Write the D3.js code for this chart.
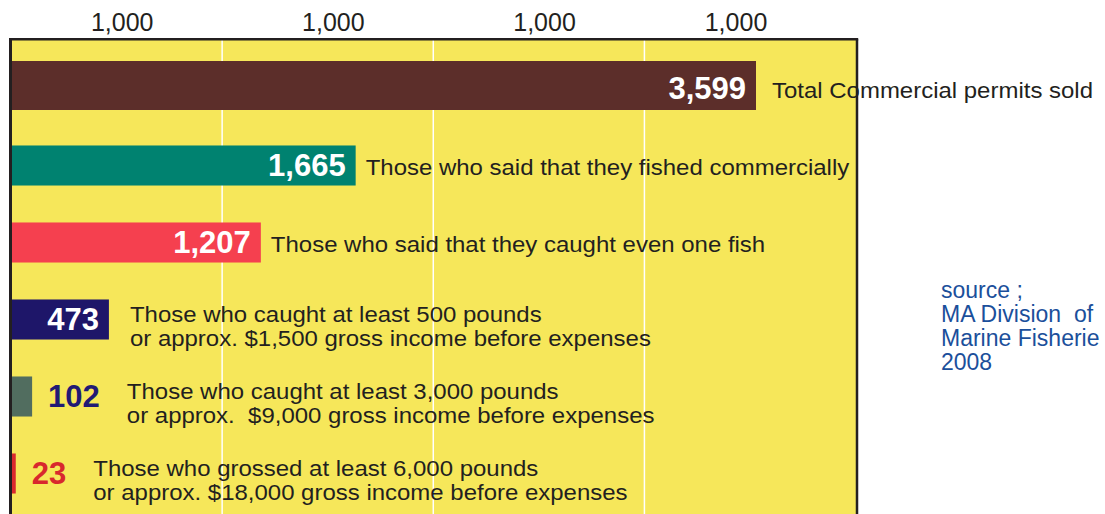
<!DOCTYPE html>
<html><head><meta charset="utf-8">
<script src="https://cdn.jsdelivr.net/npm/d3@7"></script>
<style>
body{margin:0;background:#fff;overflow:hidden;}
svg{display:block;font-family:"Liberation Sans",Arial,Helvetica,sans-serif;}
text{white-space:pre;}
</style>
</head><body><svg id="chart" width="1105" height="514"></svg>
<script>
const categories = ["total","fished","caught","500lb","3000lb","6000lb"];
const values = [3599, 1665, 1207, 473, 102, 23];
const valueLabels = ["3,599", "1,665", "1,207", "473", "102", "23"];
const descriptions = [
  ["Total Commercial permits sold"],
  ["Those who said that they fished commercially"],
  ["Those who said that they caught even one fish"],
  ["Those who caught at least 500 pounds", "or approx. $1,500 gross income before expenses"],
  ["Those who caught at least 3,000 pounds", "or approx.  $9,000 gross income before expenses"],
  ["Those who grossed at least 6,000 pounds", "or approx. $18,000 gross income before expenses"]
];
const barColors = ["#5C2E2A", "#008270", "#F5404F", "#1E1669", "#516D5F", "#DA2A2E"];
const outsideLabelColors = [null, null, null, null, "#211A74", "#D8282D"];
const gridValues = [1020, 2040, 3060];
const tickValues = [535, 1555, 2575, 3500];
const tickLabels = ["1,000", "1,000", "1,000", "1,000"];
const sourceLines = ["source ;", "MA Division  of", "Marine Fisherie", "2008"];

const svg = d3.select("#chart");
const plot = {left: 10.5, right: 857, top: 39.3, bottom: 540};
const x = d3.scaleLinear().domain([0, 4000]).range([11, 839]);
const y = d3.scaleBand().domain(categories).range([50, 512]).paddingInner(0.48).paddingOuter(0.24);
const bw = y.bandwidth();
const cy = c => y(c) + bw / 2;
const stretch = 1.09;

// background
svg.append("rect").attr("x", plot.left).attr("y", plot.top)
  .attr("width", plot.right - plot.left).attr("height", plot.bottom - plot.top)
  .attr("fill", "#F6E75A");

// gridlines
svg.append("g").selectAll("line").data(gridValues).join("line")
  .attr("x1", d => x(d)).attr("x2", d => x(d))
  .attr("y1", plot.top).attr("y2", plot.bottom)
  .attr("stroke", "#ffffff").attr("stroke-width", 1.5);

const rows = categories.map((c, i) => ({c, i, v: values[i]}));

// bars
svg.append("g").selectAll("rect").data(rows).join("rect")
  .attr("x", x(0))
  .attr("y", d => cy(d.c) - (d.i === 0 ? 27.5 : bw / 2))
  .attr("height", d => d.i === 0 ? 49 : bw)
  .attr("width", d => x(d.v) - x(0))
  .attr("fill", d => barColors[d.i]);

// value labels + descriptions
const lg = svg.append("g");
rows.forEach(d => {
  const inside = outsideLabelColors[d.i] === null;
  const t = lg.append("text")
    .attr("y", cy(d.c) + 10)
    .attr("font-size", 31).attr("font-weight", "bold")
    .text(valueLabels[d.i]);
  let descX;
  if (inside) {
    t.attr("x", x(d.v) - 10).attr("text-anchor", "end").attr("fill", "#ffffff");
    descX = x(d.v) + (d.i === 0 ? 16 : d.i === 3 ? 21 : 10);
  } else {
    const lx = x(d.v) + 16;
    t.attr("x", lx).attr("fill", outsideLabelColors[d.i]);
    descX = lx + t.node().getComputedTextLength() + 27;
  }
  const lines = descriptions[d.i];
  const base = lines.length === 1 ? cy(d.c) + 9.5 : cy(d.c) + 2.6;
  lines.forEach((ln, k) => {
    lg.append("text")
      .attr("transform", `translate(${descX},${base + k * 23.7}) scale(${stretch},1)`)
      .attr("font-size", 22).attr("fill", "#231F20").text(ln);
  });
});

// frame (top, left, right)
const fr = svg.append("g").attr("stroke", "#231F20").attr("fill", "none");
fr.append("line").attr("x1", plot.left - 1.5).attr("x2", plot.right + 1.2).attr("y1", plot.top).attr("y2", plot.top).attr("stroke-width", 2.5);
fr.append("line").attr("x1", plot.left).attr("x2", plot.left).attr("y1", plot.top).attr("y2", plot.bottom).attr("stroke-width", 3);
fr.append("line").attr("x1", plot.right).attr("x2", plot.right).attr("y1", plot.top).attr("y2", plot.bottom).attr("stroke-width", 2.5);

// top axis labels
const axis = d3.axisTop(x).tickValues(tickValues).tickFormat((d, i) => tickLabels[i]).tickSize(0).tickPadding(0);
const ag = svg.append("g").attr("transform", "translate(0,31)").call(axis);
ag.select(".domain").remove();
ag.selectAll("text").attr("y", 0).attr("dy", 0)
  .attr("font-size", 25).attr("fill", "#231F20")
  .attr("font-family", "'Liberation Sans',Arial,sans-serif");

// source note
svg.append("g").selectAll("text").data(sourceLines).join("text")
  .attr("x", 941).attr("y", (d, i) => 298 + i * 24)
  .attr("font-size", 23).attr("fill", "#1B4F9B").text(d => d);
</script>
</body></html>
